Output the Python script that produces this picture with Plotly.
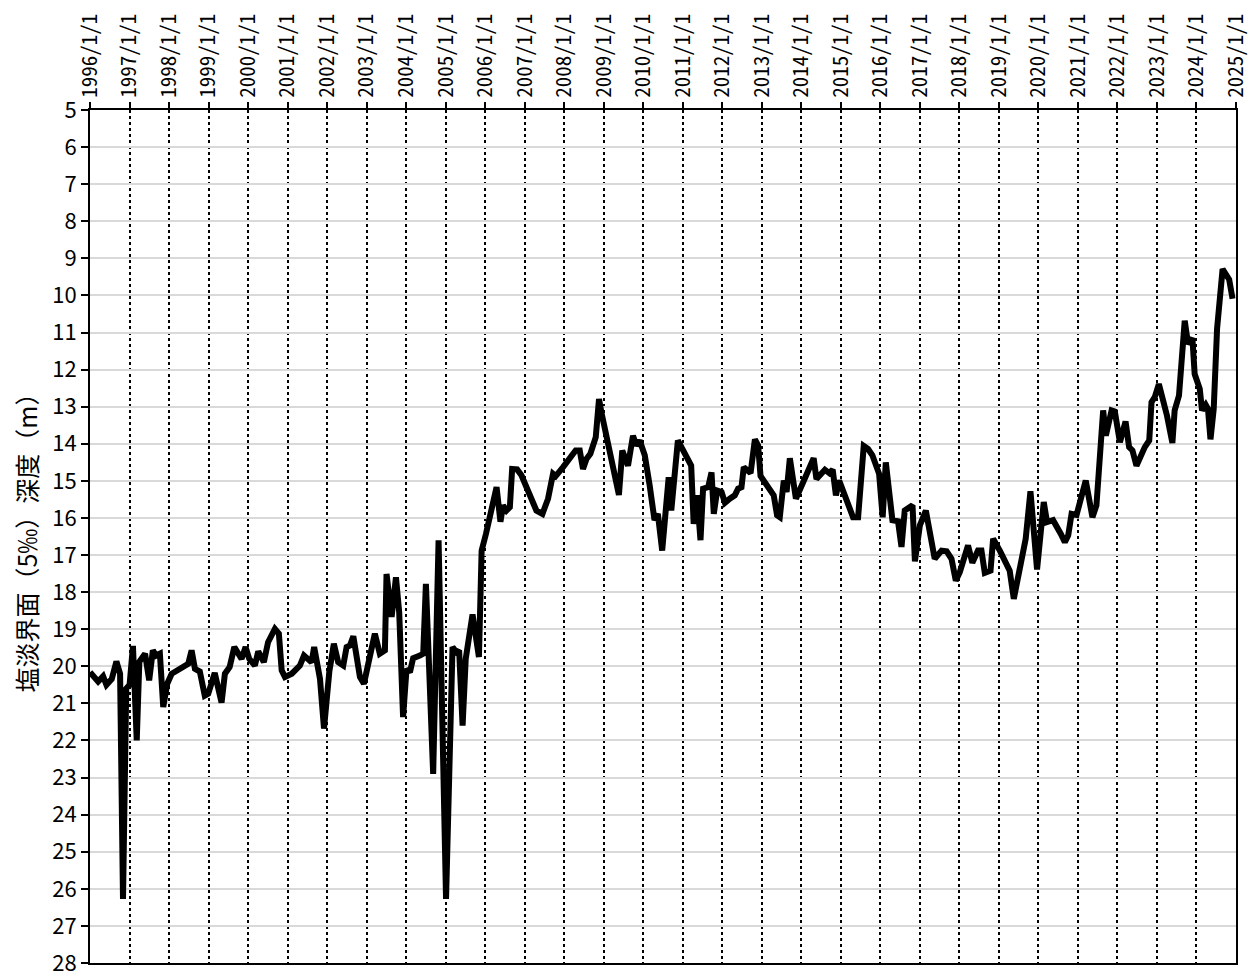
import plotly.graph_objects as go

dates = [
    "1996-01-01", "1996-03-16", "1996-05-01", "1996-06-01", "1996-07-20", "1996-09-01", "1996-10-05", "1996-11-01",
    "1996-12-01", "1997-01-01", "1997-02-01", "1997-03-08", "1997-04-01", "1997-05-24", "1997-07-01", "1997-08-04",
    "1997-09-04", "1997-10-08", "1997-11-08", "1997-12-15", "1998-01-25", "1998-03-10", "1998-05-10", "1998-06-27",
    "1998-07-28", "1998-08-28", "1998-10-12", "1998-11-27", "1998-12-29", "1999-02-27", "1999-05-01", "1999-06-01",
    "1999-07-15", "1999-08-27", "1999-11-02", "1999-12-09", "2000-01-12", "2000-03-04", "2000-04-04", "2000-05-26",
    "2000-07-04", "2000-09-05", "2000-10-12", "2000-11-07", "2000-12-07", "2001-02-08", "2001-04-24", "2001-06-01",
    "2001-08-10", "2001-09-03", "2001-10-27", "2001-12-03", "2002-01-21", "2002-03-04", "2002-04-13", "2002-05-30",
    "2002-06-30", "2002-07-31", "2002-08-31", "2002-10-31", "2002-12-07", "2003-01-26", "2003-03-18", "2003-05-03",
    "2003-06-19", "2003-07-04", "2003-08-20", "2003-09-29", "2003-10-29", "2003-12-04", "2004-01-05", "2004-02-05",
    "2004-03-06", "2004-05-07", "2004-06-07", "2004-07-02", "2004-09-07", "2004-10-27", "2005-01-04", "2005-03-05",
    "2005-04-11", "2005-05-05", "2005-06-06", "2005-07-05", "2005-09-06", "2005-11-04", "2005-11-29", "2006-01-08",
    "2006-02-28", "2006-04-16", "2006-05-22", "2006-06-15", "2006-07-17", "2006-08-17", "2006-09-07", "2006-10-23",
    "2006-12-02", "2007-02-16", "2007-04-19", "2007-06-14", "2007-08-05", "2007-09-20", "2007-10-15", "2007-12-22",
    "2008-02-22", "2008-04-16", "2008-05-24", "2008-06-23", "2008-07-25", "2008-08-30", "2008-10-19", "2008-11-18",
    "2008-12-10", "2009-01-27", "2009-03-12", "2009-05-21", "2009-06-21", "2009-08-13", "2009-09-28", "2009-10-30",
    "2009-11-29", "2010-01-15", "2010-03-01", "2010-04-15", "2010-05-16", "2010-06-25", "2010-08-24", "2010-09-17",
    "2010-11-17", "2011-03-20", "2011-04-12", "2011-05-13", "2011-06-14", "2011-07-08", "2011-08-24", "2011-09-24",
    "2011-10-15", "2011-11-15", "2011-12-26", "2012-01-26", "2012-03-11", "2012-04-26", "2012-05-27", "2012-06-27",
    "2012-07-18", "2012-08-28", "2012-09-19", "2012-10-29", "2012-11-28", "2012-12-20", "2013-04-21", "2013-05-22",
    "2013-06-16", "2013-07-23", "2013-08-18", "2013-09-17", "2013-11-12", "2014-04-25", "2014-05-21", "2014-08-07",
    "2014-09-16", "2014-10-18", "2014-11-17", "2014-12-17", "2015-04-24", "2015-06-10", "2015-08-01", "2015-09-10",
    "2015-10-20", "2015-12-21", "2016-01-23", "2016-02-21", "2016-04-22", "2016-06-13", "2016-07-15", "2016-08-14",
    "2016-10-25", "2016-11-16", "2017-01-01", "2017-02-25", "2017-05-18", "2017-07-20", "2017-09-05", "2017-10-20",
    "2017-11-29", "2018-01-05", "2018-03-22", "2018-05-01", "2018-06-22", "2018-07-24", "2018-08-24", "2018-10-16",
    "2018-11-09", "2019-01-10", "2019-04-11", "2019-05-19", "2019-07-06", "2019-09-06", "2019-10-20", "2019-12-20",
    "2020-02-20", "2020-03-21", "2020-05-16", "2020-06-16", "2020-07-27", "2020-09-02", "2020-10-03", "2020-11-03",
    "2020-12-19", "2021-03-14", "2021-05-15", "2021-06-21", "2021-08-22", "2021-09-16", "2021-11-08", "2021-12-08",
    "2022-01-24", "2022-03-17", "2022-04-19", "2022-05-20", "2022-06-26", "2022-09-11", "2022-10-22", "2022-11-12",
    "2022-12-12", "2023-01-19", "2023-04-04", "2023-05-24", "2023-06-14", "2023-07-24", "2023-09-15", "2023-10-16",
    "2023-11-25", "2023-12-16", "2024-02-01", "2024-02-22", "2024-03-27", "2024-04-17", "2024-05-10", "2024-06-09",
    "2024-07-10", "2024-08-30", "2024-10-30", "2024-11-30",
]

depth = [
    20.16, 20.41, 20.27, 20.5, 20.34, 19.87, 20.2, 26.27,
    20.6, 20.5, 19.45, 22.0, 19.88, 19.66, 20.38, 19.57,
    19.71, 19.66, 21.1, 20.47, 20.2, 20.11, 19.98, 19.93,
    19.57, 20.07, 20.14, 20.79, 20.74, 20.18, 20.98, 20.2,
    20.02, 19.48, 19.8, 19.48, 19.8, 19.98, 19.6, 19.89,
    19.35, 18.99, 19.12, 20.11, 20.29, 20.2, 19.98, 19.71,
    19.89, 19.48, 20.34, 21.68, 20.15, 19.39, 19.89, 19.98,
    19.48, 19.44, 19.19, 20.29, 20.47, 19.71, 19.12, 19.66,
    19.57, 17.51, 18.67, 17.6, 18.54, 21.37, 20.07, 20.16,
    19.78, 19.71, 19.66, 17.78, 22.9, 16.6, 26.27, 19.48,
    19.62, 19.57, 21.6, 19.8, 18.6, 19.75, 16.88, 16.43,
    15.85, 15.17, 16.1, 15.66, 15.8, 15.71, 14.68, 14.69,
    14.85, 15.35, 15.8, 15.89, 15.48, 14.81, 14.87, 14.63,
    14.41, 14.18, 14.18, 14.68, 14.41, 14.27, 13.82, 12.79,
    13.15, 13.78, 14.5, 15.38, 14.18, 14.59, 13.78, 14.05,
    13.91, 14.31, 15.12, 16.06, 15.89, 16.88, 14.9, 15.8,
    13.91, 14.59, 16.16, 15.39, 16.6, 15.21, 15.17, 14.77,
    15.89, 15.26, 15.3, 15.59, 15.48, 15.39, 15.21, 15.17,
    14.63, 14.77, 14.79, 13.88, 14.05, 14.87, 15.39, 15.93,
    15.98, 14.99, 15.3, 14.39, 15.48, 14.39, 14.95, 14.7,
    14.79, 14.7, 15.39, 14.99, 15.98, 15.98, 14.06, 14.14,
    14.31, 14.81, 15.98, 14.5, 16.06, 16.09, 16.78, 15.8,
    15.66, 17.17, 16.2, 15.8, 17.1, 16.88, 16.9, 17.1,
    17.69, 17.46, 16.74, 17.21, 16.88, 16.88, 17.48, 17.42,
    16.56, 16.88, 17.42, 18.18, 17.55, 16.56, 15.28, 17.39,
    15.57, 16.11, 16.06, 16.2, 16.43, 16.65, 16.47, 15.89,
    15.92, 14.99, 15.98, 15.66, 13.1, 13.78, 13.1, 13.13,
    13.96, 13.4, 14.09, 14.18, 14.59, 14.09, 13.91, 12.88,
    12.74, 12.39, 13.24, 13.98, 13.1, 12.7, 10.68, 11.31,
    11.15, 12.12, 12.52, 13.1, 12.95, 13.06, 13.88, 13.06,
    10.9, 9.29, 9.57, 10.09,
]

years = list(range(1996, 2026))
tick_vals = [f"{y}-01-01" for y in years]
tick_text = [f"{y}/1/1" for y in years]
y_ticks = list(range(5, 29))

font_x = "Noto Sans Mono CJK JP, Noto Sans CJK JP, sans-serif"
font_jp = "Noto Sans CJK JP, sans-serif"

fig = go.Figure()
fig.add_trace(go.Scatter(
    x=dates, y=depth, mode="lines",
    line=dict(color="black", width=6),
    showlegend=False,
))

fig.update_layout(
    width=1250, height=971,
    paper_bgcolor="white", plot_bgcolor="white",
    margin=dict(l=82, r=22, t=102, b=16, autoexpand=False),
    font=dict(family=font_jp, color="#000000"),
)

fig.update_xaxes(
    side="top",
    range=["1996-01-01", "2025-01-01"],
    tickmode="array", tickvals=tick_vals, ticktext=tick_text,
    tickangle=-90,
    tickfont=dict(size=21, family=font_x, color="#000000"),
    ticks="outside", ticklen=6, tickwidth=2, tickcolor="black",
    showgrid=True, gridcolor="black", gridwidth=1.5, griddash="dot",
    showline=True, linecolor="black", linewidth=2, mirror=True,
    zeroline=False,
)

fig.update_yaxes(
    range=[28, 5],
    tickmode="array", tickvals=y_ticks, ticktext=[str(v) for v in y_ticks],
    tickfont=dict(size=22, family=font_jp, color="#000000"),
    ticks="outside", ticklen=7, tickwidth=2, tickcolor="black",
    showgrid=True, gridcolor="#d9d9d9", gridwidth=2,
    showline=True, linecolor="black", linewidth=2, mirror=True,
    zeroline=False,
    title=dict(text="塩淡界面（5‰）深度（m）",
               font=dict(size=25, family=font_jp, color="#000000"),
               standoff=24),
)

fig.write_html("out.html")
